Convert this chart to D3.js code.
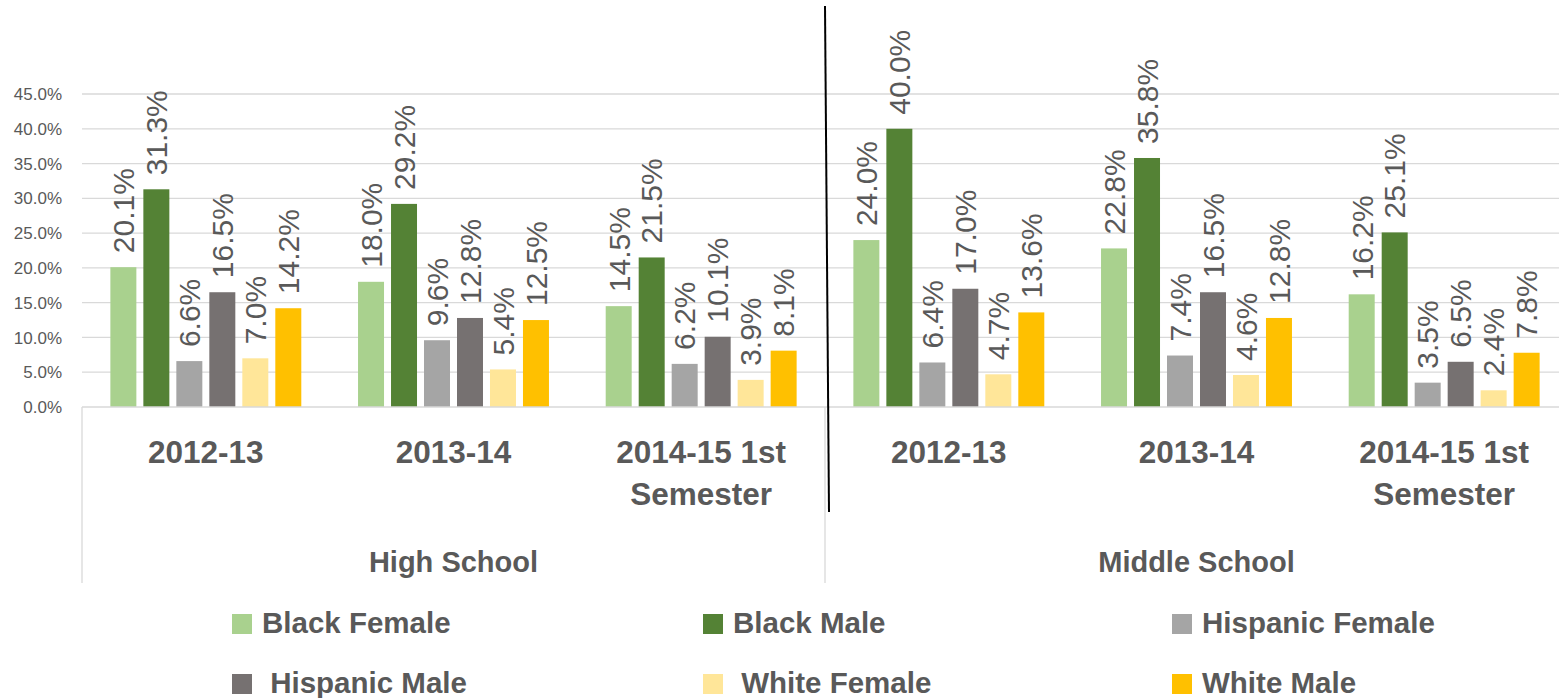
<!DOCTYPE html>
<html><head><meta charset="utf-8">
<script src="https://cdn.jsdelivr.net/npm/d3@7/dist/d3.min.js"></script>
<style>body{margin:0;background:#fff}svg{display:block}text{font-family:"Liberation Sans",Arial,sans-serif}</style>
</head><body><svg id="c" width="1559" height="698"></svg>
<script>
// ---- data ----
const categoryLines = [["2012-13"],["2013-14"],["2014-15 1st","Semester"],["2012-13"],["2013-14"],["2014-15 1st","Semester"]];
const groupNames = ["High School","Middle School"];
const groupOf = [0,0,0,1,1,1];
const seriesNames = ["Black Female","Black Male","Hispanic Female","Hispanic Male","White Female","White Male"];
const blackFemale    = [20.1, 18.0, 14.5, 24.0, 22.8, 16.2];
const blackMale      = [31.3, 29.2, 21.5, 40.0, 35.8, 25.1];
const hispanicFemale = [6.6, 9.6, 6.2, 6.4, 7.4, 3.5];
const hispanicMale   = [16.5, 12.8, 10.1, 17.0, 16.5, 6.5];
const whiteFemale    = [7.0, 5.4, 3.9, 4.7, 4.6, 2.4];
const whiteMale      = [14.2, 12.5, 8.1, 13.6, 12.8, 7.8];
const yTicks = [0,5,10,15,20,25,30,35,40,45];
const colors = ["#a9d18e","#548235","#a5a5a5","#767171","#ffe699","#ffc000"];
const seriesValues = [blackFemale, blackMale, hispanicFemale, hispanicMale, whiteFemale, whiteMale];

(function(){
const svg = d3.select("#c");
const textColor = "#595959", gridColor = "#d9d9d9";
const plotLeft = 82, plotRight = 1568, plotTop = 94, plotBase = 407;

const x0 = d3.scaleBand().domain(d3.range(categoryLines.length)).range([plotLeft, plotRight]);
const x1 = d3.scaleBand().domain(seriesNames).range([0, x0.bandwidth()]).paddingInner(7/33).paddingOuter(0.86);
const y = d3.scaleLinear().domain([0,45]).range([plotBase, plotTop]);

// gridlines
svg.append("g").selectAll("line").data(yTicks.filter(d=>d>0)).join("line")
  .attr("x1", plotLeft).attr("x2", 1559).attr("y1", d=>y(d)).attr("y2", d=>y(d))
  .attr("stroke", gridColor).attr("stroke-width", 1.3);

// y tick labels
svg.append("g").selectAll("text").data(yTicks).join("text")
  .attr("x", 62).attr("y", d=>y(d)).attr("dy","0.36em").attr("text-anchor","end")
  .attr("font-size", 17).attr("fill", textColor).text(d=>d3.format(".1f")(d)+"%");

// bars
const gCat = svg.append("g").selectAll("g").data(d3.range(categoryLines.length)).join("g")
  .attr("transform", i=>`translate(${x0(i)},0)`);
gCat.selectAll("rect").data(i=>seriesNames.map((s,k)=>({s,k,v:seriesValues[k][i]}))).join("rect")
  .attr("x", d=>x1(d.s)).attr("width", x1.bandwidth())
  .attr("y", d=>y(d.v)).attr("height", d=>plotBase - y(d.v)).attr("fill", d=>colors[d.k]);
gCat.selectAll("text.v").data(i=>seriesNames.map((s,k)=>({s,k,v:seriesValues[k][i]}))).join("text")
  .attr("class","v")
  .attr("transform", d=>`translate(${x1(d.s)+x1.bandwidth()/2},${y(d.v)-14}) rotate(-90)`)
  .attr("dy","0.36em").attr("font-size", 30).attr("fill", textColor)
  .text(d=>d3.format(".1f")(d.v)+"%");

// axis line
svg.append("line").attr("x1", plotLeft).attr("x2", 1559).attr("y1", plotBase).attr("y2", plotBase)
  .attr("stroke", gridColor).attr("stroke-width", 1.6);

// group boundaries
svg.append("g").selectAll("line").data([0,3]).join("line")
  .attr("x1", i=>x0(i)).attr("x2", i=>x0(i)).attr("y1", plotBase).attr("y2", 583)
  .attr("stroke", gridColor).attr("stroke-width", 1.3);

// category labels
svg.append("g").selectAll("text").data(d3.range(categoryLines.length)).join("text")
  .attr("x", i=>x0(i)+x0.bandwidth()/2).attr("y", 463).attr("text-anchor","middle")
  .attr("font-size", 31.5).attr("font-weight","bold").attr("fill", textColor)
  .each(function(i){
    d3.select(this).selectAll("tspan").data(categoryLines[i]).join("tspan")
      .attr("x", x0(i)+x0.bandwidth()/2).attr("dy",(d,j)=>j===0?0:42).text(d=>d);
  });

// group labels
svg.append("g").selectAll("text").data(groupNames).join("text")
  .attr("x", (g,gi)=>{const idx=d3.range(6).filter(i=>groupOf[i]===gi); return (x0(idx[0])+x0(idx[idx.length-1])+x0.bandwidth())/2;})
  .attr("y", 572).attr("text-anchor","middle")
  .attr("font-size", 29).attr("font-weight","bold").attr("fill", textColor).text(d=>d);

// black divider line
svg.append("line").attr("x1", x0(3)).attr("y1", 6).attr("x2", x0(3)+4).attr("y2", 512)
  .attr("stroke", "#000").attr("stroke-width", 2);

// legend
const legendX = [232, 703, 1172], legendY = [633, 693];
const legendLabels = ["Black Female","Black Male","Hispanic Female"," Hispanic Male"," White Female","White Male"];
const lg = svg.append("g").selectAll("g").data(seriesNames).join("g")
  .attr("transform", (d,i)=>`translate(${legendX[i%3]},${legendY[Math.floor(i/3)]})`);
lg.append("rect").attr("x",0).attr("y",-19).attr("width",20).attr("height",20).attr("fill",(d,i)=>colors[i]);
lg.append("text").attr("x",30).attr("y",0).attr("font-size",29.5).attr("font-weight","bold")
  .attr("fill",textColor).style("white-space","pre").text((d,i)=>legendLabels[i]);
})();
</script></body></html>
